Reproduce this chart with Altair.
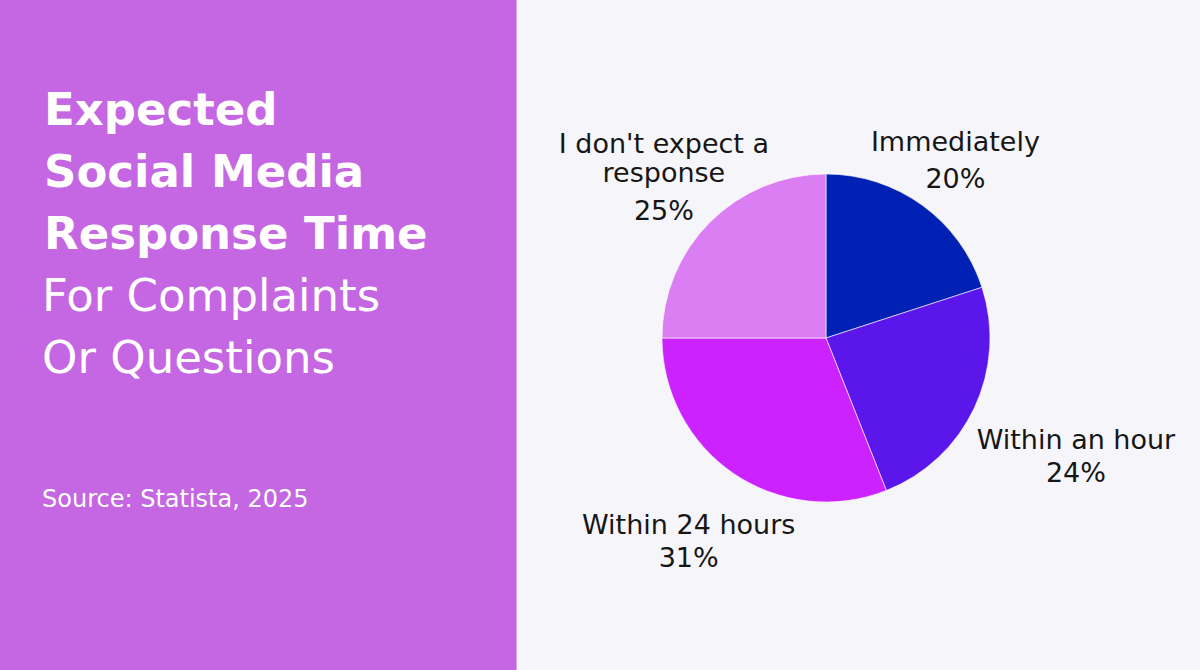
import altair as alt
import pandas as pd

# ---- data ----
categories = ["Immediately", "Within an hour", "Within 24 hours", "I don't expect a response"]
shares = [20, 24, 31, 25]
label_text = ["Immediately", "Within an hour", "Within 24 hours", "I don't expect a\nresponse"]
colors = ["#0021B3", "#5B17EB", "#CC22FF", "#DC7EF3"]
title_bold = ["Expected", "Social Media", "Response Time"]
title_light = ["For Complaints", "Or Questions"]
source_text = "Source: Statista, 2025"

# ---- layout ----
W, H = 1200, 670
CX, CY, R = 826, 338, 164
PANEL_W = 516
FONT = "DejaVu Sans"

# label placement along each slice's mid-angle
# (radius, nudge x, nudge y of first name line, gap from first name line to percent line)
lay_r = [227, 274, 239, 225]
lay_dx = [-4, 2, -3, -3]
lay_dy = [-3, -6, -2, -26]
lay_gap = [37, 33, 33, 67]


def pick(vals):
    return "[" + ",".join(str(v) for v in vals) + "][datum.order]"


df = pd.DataFrame({
    "category": categories,
    "share": shares,
    "label": label_text,
    "order": list(range(len(categories))),
})

one = alt.InlineData(values=[{"k": 0}])

panel = alt.Chart(one).mark_rect(color="#C566E2").encode(
    x=alt.value(0), x2=alt.value(PANEL_W), y=alt.value(0), y2=alt.value(H)
)
edge = alt.Chart(one).mark_rect(color="#DFA6EE").encode(
    x=alt.value(PANEL_W), x2=alt.value(PANEL_W + 1), y=alt.value(0), y2=alt.value(H)
)

t_bold = alt.Chart(one).mark_text(
    text=title_bold, font=FONT, fontWeight="bold", fontSize=45, lineHeight=62,
    baseline="top", align="left", color="white"
).encode(x=alt.value(44), y=alt.value(88.5))

t_light = alt.Chart(one).mark_text(
    text=title_light, font=FONT, fontWeight="normal", fontSize=45, lineHeight=62,
    baseline="top", align="left", color="white"
).encode(x=alt.value(42), y=alt.value(275))

t_source = alt.Chart(one).mark_text(
    text=source_text, font=FONT, fontSize=24, baseline="alphabetic", align="left", color="white"
).encode(x=alt.value(42), y=alt.value(506.5))

base = alt.Chart(df)

pie = base.mark_arc(radius=R, stroke="#FFFFFF", strokeWidth=0.6).encode(
    theta=alt.Theta("share:Q", stack=True),
    color=alt.Color("category:N", scale=alt.Scale(domain=categories, range=colors), legend=None),
    order=alt.Order("order:Q"),
    x=alt.value(CX),
    y=alt.value(CY),
)

lab_base = base.transform_joinaggregate(total="sum(share)").transform_window(
    cum="sum(share)", sort=[alt.SortField("order")], frame=[None, 0]
).transform_calculate(
    mid="2*PI*(datum.cum - datum.share/2)/datum.total",
    lr=pick(lay_r),
    ldx=pick(lay_dx),
    ldy=pick(lay_dy),
    lgap=pick(lay_gap),
    pct="datum.share + '%'",
).transform_calculate(
    lx=f"{CX} + datum.lr*sin(datum.mid) + datum.ldx",
    ly=f"{CY} - datum.lr*cos(datum.mid) + datum.ldy",
).transform_calculate(
    py="datum.ly + datum.lgap"
)

names = lab_base.mark_text(
    font=FONT, fontSize=27, lineHeight=29, lineBreak="\n", baseline="alphabetic",
    align="center", color="#161616"
).encode(
    x=alt.X("lx:Q", scale=None),
    y=alt.Y("ly:Q", scale=None),
    text="label:N",
)

pcts = lab_base.mark_text(
    font=FONT, fontSize=27, baseline="alphabetic", align="center", color="#161616"
).encode(
    x=alt.X("lx:Q", scale=None),
    y=alt.Y("py:Q", scale=None),
    text="pct:N",
)

chart = alt.layer(panel, edge, t_bold, t_light, t_source, pie, names, pcts).properties(
    width=W, height=H, padding=0, autosize=alt.AutoSizeParams(type="none"),
    background="#F6F5FA",
).configure_view(stroke=None)

chart.save("out.html", embed_options={"renderer": "svg", "actions": False})
